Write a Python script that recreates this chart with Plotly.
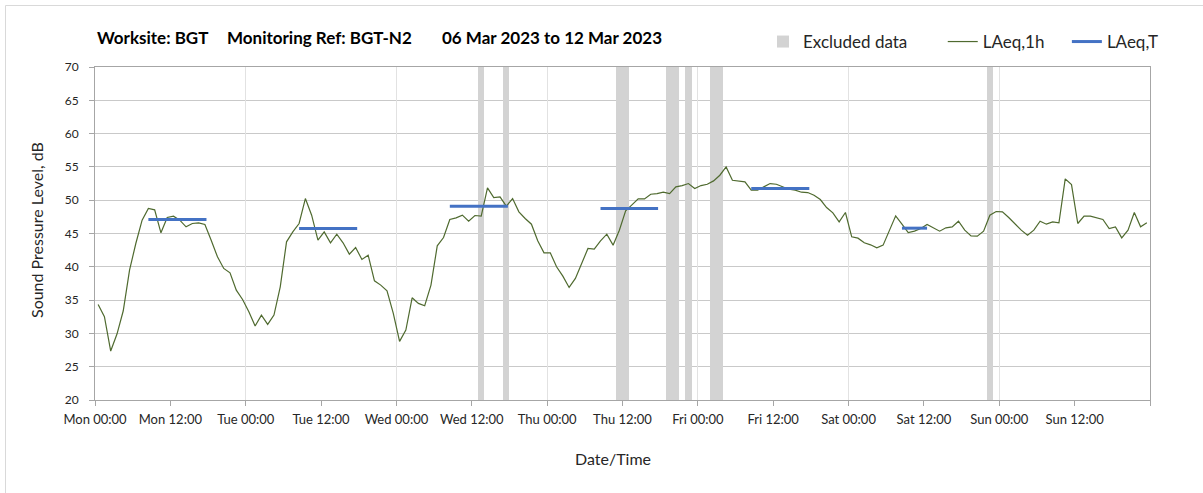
import plotly.graph_objects as go
import pandas as pd

# ---------------- data ----------------
start_time = "2023-03-06 00:00"
end_time = "2023-03-13 00:00"

# hourly LAeq,1h values (Mon 00:00 .. Sun 23:00), dB
laeq_1h = [
    34.35, 32.5, 27.35, 29.9, 33.4, 39.5, 43.5, 47.0, 48.75, 48.55, 45.1, 47.4,
    47.6, 47.0, 46.0, 46.5, 46.6, 46.35, 44.0, 41.5, 39.75, 39.1, 36.5, 35.1,
    33.25, 31.1, 32.75, 31.35, 32.75, 37.0, 43.75, 45.25, 46.5, 50.25, 47.75, 44.0,
    45.25, 43.6, 44.9, 43.6, 41.9, 42.9, 41.1, 41.75, 37.9, 37.25, 36.4, 33.0,
    28.8, 30.5, 35.35, 34.5, 34.15, 37.25, 43.15, 44.4, 47.1, 47.35, 47.75, 46.85,
    47.7, 47.6, 51.85, 50.4, 50.5, 49.1, 50.25, 48.25, 47.25, 46.4, 43.9, 42.1,
    42.1, 40.0, 38.6, 36.9, 38.25, 40.5, 42.75, 42.65, 43.9, 44.9, 43.25, 45.5,
    48.4, 49.3, 50.2, 50.2, 50.9, 51.0, 51.2, 51.0, 52.0, 52.2, 52.5, 51.75,
    52.2, 52.4, 52.9, 53.75, 55.0, 53.0, 52.9, 52.75, 51.5, 51.5, 52.0, 52.5,
    52.4, 52.0, 51.65, 51.5, 51.2, 51.15, 50.75, 50.1, 48.9, 48.1, 46.75, 48.15,
    44.5, 44.3, 43.6, 43.3, 42.85, 43.25, 45.35, 47.65, 46.4, 45.15, 45.35, 45.75,
    46.35, 45.9, 45.35, 45.85, 46.0, 46.85, 45.5, 44.65, 44.6, 45.35, 47.75, 48.3,
    48.25, 47.4, 46.4, 45.5, 44.75, 45.5, 46.85, 46.4, 46.75, 46.6, 53.2, 52.35,
    46.5, 47.6, 47.6, 47.4, 47.1, 45.75, 46.0, 44.35, 45.5, 48.15, 46.0, 46.6,
]

# hour indices (from Mon 00:00) flagged as excluded data
excluded_hours = [61, 65, 83, 84, 91, 92, 94, 98, 99, 142]

# LAeq,T periods
laeqT_start = ["2023-03-06 08:30", "2023-03-07 08:30", "2023-03-08 08:30",
               "2023-03-09 08:30", "2023-03-10 08:30", "2023-03-11 08:30"]
laeqT_end = ["2023-03-06 17:45", "2023-03-07 17:45", "2023-03-08 17:45",
             "2023-03-09 17:40", "2023-03-10 17:45", "2023-03-11 12:30"]
laeqT_values = [47.1, 45.75, 49.1, 48.75, 51.75, 45.8]

tick_labels = ["Mon 00:00", "Mon 12:00", "Tue 00:00", "Tue 12:00", "Wed 00:00",
               "Wed 12:00", "Thu 00:00", "Thu 12:00", "Fri 00:00", "Fri 12:00",
               "Sat 00:00", "Sat 12:00", "Sun 00:00", "Sun 12:00", ""]

y_ticks = [20, 25, 30, 35, 40, 45, 50, 55, 60, 65, 70]

title_parts = ["Worksite: BGT", "Monitoring Ref: BGT-N2", "06 Mar 2023 to 12 Mar 2023"]

# ---------------- derived ----------------
t0 = pd.Timestamp(start_time)
hour_x = [t0 + pd.Timedelta(minutes=60 * i + 30) for i in range(len(laeq_1h))]
excl_x = [t0 + pd.Timedelta(minutes=60 * h + 30) for h in excluded_hours]
tick_vals = [t0 + pd.Timedelta(hours=12 * k) for k in range(len(tick_labels))]
day_vals = [t0 + pd.Timedelta(days=d) for d in range(8)]

tx, ty = [], []
for s, e, v in zip(laeqT_start, laeqT_end, laeqT_values):
    tx += [pd.Timestamp(s), pd.Timestamp(e), None]
    ty += [v, v, None]

# ---------------- layout geometry ----------------
W, H = 1203, 493
L, R, T, B = 95, 1150, 67, 400


def xp(p):
    return (p - L) / (R - L)


def yp(p):
    return (B - p) / (B - T)


FONT = "Lato"
TXT = "#262626"

fig = go.Figure()

fig.add_trace(go.Bar(
    x=excl_x, y=[70 - 20] * len(excl_x), base=20, width=3600000,
    marker=dict(color="#d3d3d3", line=dict(width=0)),
    name="Excluded data" + "\u00a0" * 7, hoverinfo="skip",
))
fig.add_trace(go.Scatter(
    x=hour_x, y=laeq_1h, mode="lines",
    line=dict(color="#4f6a2f", width=1.2),
    name="LAeq,1h" + "\u00a0" * 4,
))
fig.add_trace(go.Scatter(
    x=tx, y=ty, mode="lines", connectgaps=False,
    line=dict(color="#4472c4", width=3),
    name="LAeq,T",
))
# invisible trace to drive the daily-gridline overlay axis
fig.add_trace(go.Scatter(
    x=[day_vals[0], day_vals[-1]], y=[20, 20], xaxis="x2", mode="lines",
    line=dict(width=0), showlegend=False, hoverinfo="skip",
))

fig.update_layout(
    width=W, height=H,
    margin=dict(l=L, r=W - R, t=T, b=H - B),
    paper_bgcolor="white", plot_bgcolor="white",
    font=dict(family=FONT, color=TXT),
    bargap=0,
    showlegend=True,
    legend=dict(
        orientation="h", x=xp(763), xanchor="left", y=yp(42), yanchor="middle",
        font=dict(size=17, color=TXT, family=FONT), itemwidth=30,
        bgcolor="rgba(0,0,0,0)", traceorder="normal",
    ),
    xaxis=dict(
        type="date", range=[t0, pd.Timestamp(end_time)],
        tickvals=tick_vals, ticktext=tick_labels,
        showgrid=False, zeroline=False,
        showline=True, linecolor="#a6a6a6", linewidth=1, mirror=True,
        ticks="outside", ticklen=5, tickcolor="#a6a6a6",
        tickfont=dict(size=13, color=TXT, family=FONT),
        ticklabelstandoff=2,
    ),
    xaxis2=dict(
        type="date", overlaying="x", matches="x",
        tickvals=day_vals, showgrid=True, gridcolor="#e2e2e2", gridwidth=1,
        showticklabels=False, ticks="", showline=False, zeroline=False,
    ),
    yaxis=dict(
        range=[20, 70], tickvals=y_ticks,
        showgrid=True, gridcolor="#c9c9c9", gridwidth=1, zeroline=False,
        showline=True, linecolor="#a6a6a6", linewidth=1, mirror=True,
        ticks="outside", ticklen=5, tickcolor="#a6a6a6",
        tickfont=dict(size=12, color=TXT, family=FONT),
        ticklabelstandoff=8,
    ),
)

for text, px in zip(title_parts, [95, 225, 440]):
    fig.add_annotation(text="<b>" + text + "</b>", xref="paper", yref="paper",
                       x=xp(px), y=yp(37), xanchor="left", yanchor="middle",
                       showarrow=False, font=dict(size=17, color="#000000", family=FONT))

fig.add_annotation(text="Sound Pressure Level, dB", xref="paper", yref="paper",
                   x=xp(36), y=yp(230), textangle=-90, showarrow=False,
                   xanchor="center", yanchor="middle",
                   font=dict(size=16, color=TXT, family=FONT))
fig.add_annotation(text="Date/Time", xref="paper", yref="paper",
                   x=xp(613), y=yp(458), showarrow=False,
                   xanchor="center", yanchor="middle",
                   font=dict(size=16, color=TXT, family=FONT))

# outer chart border (left and top edges visible)
fig.add_shape(type="line", xref="paper", yref="paper",
              x0=xp(5.5), x1=xp(1210), y0=yp(5.5), y1=yp(5.5),
              line=dict(color="#d9d9d9", width=1))
fig.add_shape(type="line", xref="paper", yref="paper",
              x0=xp(5.5), x1=xp(5.5), y0=yp(5.5), y1=yp(500),
              line=dict(color="#d9d9d9", width=1))

fig.write_html("out.html", config={"displayModeBar": False},
               post_script="document.body.style.margin='0';document.body.style.overflow='hidden';")
